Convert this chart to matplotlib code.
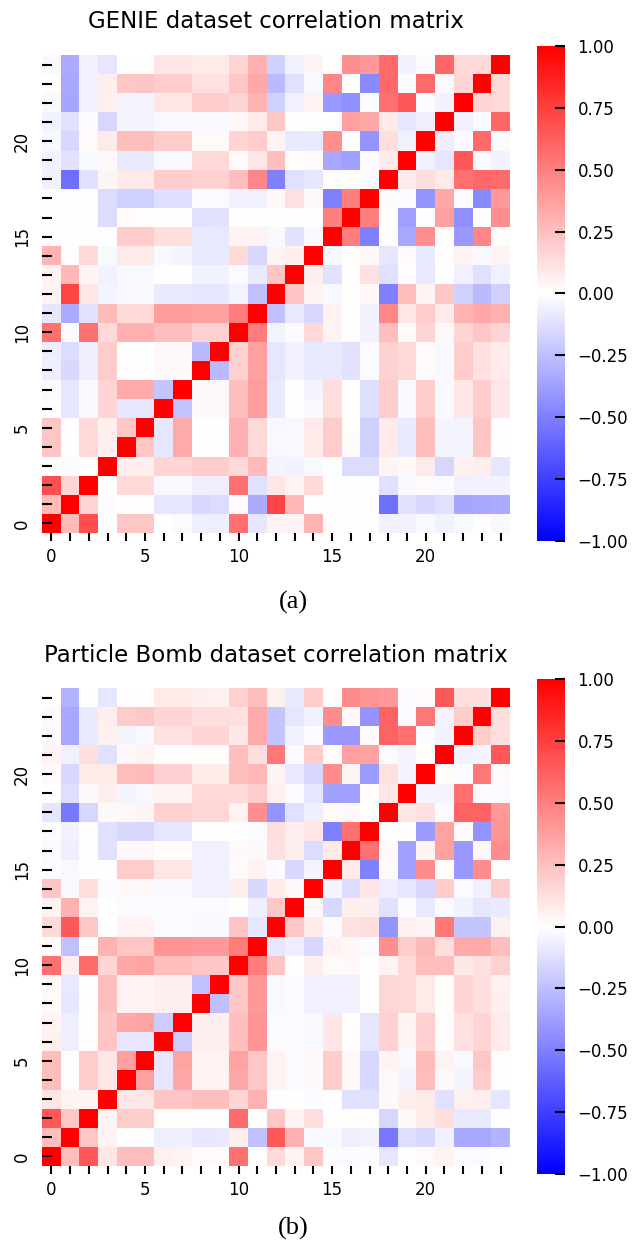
import numpy as np
import matplotlib
matplotlib.use("Agg")
import matplotlib.pyplot as plt

# lower triangle rows (row i holds columns 0..i-1), diagonal is 1
genie_rows = [
    [0.27],
    [0.69, 0.17],
    [0.00, -0.01, 0.00],
    [0.22, 0.00, 0.15, 0.07],
    [0.22, 0.00, 0.15, 0.07, 0.22],
    [0.00, -0.10, -0.03, 0.17, -0.10, -0.10],
    [-0.02, -0.10, -0.03, 0.17, 0.33, 0.33, -0.23],
    [-0.07, -0.15, -0.07, 0.20, 0.00, 0.00, 0.03, 0.03],
    [-0.07, -0.14, -0.07, 0.20, 0.00, 0.00, 0.03, 0.03, -0.27],
    [0.56, -0.02, 0.56, 0.15, 0.31, 0.31, 0.25, 0.25, 0.18, 0.18],
    [-0.10, -0.33, -0.12, 0.27, 0.15, 0.15, 0.39, 0.39, 0.37, 0.37, 0.51],
    [0.05, 0.73, 0.10, -0.04, -0.03, -0.03, -0.08, -0.08, -0.10, -0.10, -0.04, -0.25],
    [0.05, 0.28, 0.04, -0.05, -0.03, -0.03, 0.00, 0.00, -0.05, -0.05, -0.02, -0.08, 0.23],
    [0.29, 0.01, 0.15, -0.03, 0.08, 0.08, -0.03, -0.04, -0.08, -0.08, 0.15, -0.15, 0.04, 0.07],
    [0.01, 0.00, 0.00, 0.00, 0.20, 0.20, 0.13, 0.13, -0.08, -0.09, 0.05, 0.05, -0.03, -0.11, -0.03],
    [0.00, 0.00, 0.00, -0.14, 0.02, 0.01, 0.00, 0.00, -0.11, -0.11, 0.00, 0.00, 0.00, 0.00, 0.00, 0.50],
    [0.00, 0.00, 0.00, -0.14, -0.18, -0.18, -0.13, -0.13, -0.02, -0.02, -0.05, -0.05, 0.03, 0.12, 0.03, -0.50, 0.50],
    [-0.05, -0.57, -0.12, 0.04, 0.08, 0.08, 0.20, 0.20, 0.18, 0.18, 0.25, 0.47, -0.50, -0.12, -0.10, 0.01, 0.01, -0.01],
    [-0.05, -0.11, -0.03, 0.03, -0.08, -0.08, -0.03, -0.03, 0.15, 0.15, 0.02, 0.10, 0.25, 0.01, 0.02, -0.34, -0.37, -0.02, 0.08],
    [-0.03, -0.15, 0.02, 0.08, 0.25, 0.25, 0.20, 0.20, 0.02, 0.02, 0.17, 0.20, 0.04, -0.09, -0.09, 0.44, 0.00, -0.42, 0.13, -0.06],
    [-0.05, -0.12, -0.02, -0.16, -0.04, -0.04, -0.03, -0.03, -0.03, -0.03, 0.03, 0.08, 0.22, 0.00, 0.01, 0.01, 0.37, 0.34, 0.08, -0.10, -0.07],
    [-0.03, -0.35, -0.06, 0.06, -0.04, -0.04, 0.10, 0.10, 0.20, 0.20, 0.17, 0.30, -0.18, -0.06, 0.05, -0.40, -0.43, -0.02, 0.56, 0.65, -0.02, -0.05],
    [0.00, -0.34, -0.05, 0.07, 0.22, 0.23, 0.20, 0.20, 0.12, 0.12, 0.22, 0.34, -0.27, -0.12, -0.03, 0.47, 0.00, -0.46, 0.59, -0.02, 0.58, -0.02, 0.17],
    [-0.03, -0.33, -0.05, -0.10, 0.00, 0.00, 0.10, 0.10, 0.08, 0.08, 0.17, 0.31, -0.18, -0.06, 0.04, 0.01, 0.44, 0.40, 0.58, -0.05, -0.02, 0.60, 0.15, 0.15],
]

bomb_rows = [
    [0.25],
    [0.65, 0.22],
    [0.10, 0.05, 0.04],
    [0.25, 0.01, 0.20, 0.10],
    [0.25, 0.01, 0.20, 0.10, 0.37],
    [0.06, -0.07, 0.01, 0.23, -0.10, -0.10],
    [0.05, -0.07, 0.01, 0.23, 0.34, 0.36, -0.20],
    [0.02, -0.10, 0.00, 0.25, 0.05, 0.05, 0.07, 0.07],
    [0.02, -0.09, 0.00, 0.25, 0.05, 0.05, 0.07, 0.07, -0.25],
    [0.56, 0.07, 0.58, 0.17, 0.34, 0.36, 0.25, 0.25, 0.22, 0.22],
    [0.01, -0.25, 0.00, 0.30, 0.22, 0.22, 0.42, 0.42, 0.40, 0.40, 0.51],
    [0.15, 0.65, 0.22, 0.00, 0.05, 0.05, -0.02, -0.02, -0.03, -0.03, 0.23, -0.10],
    [0.05, 0.31, 0.05, 0.00, -0.02, -0.02, -0.02, -0.02, -0.02, -0.02, 0.00, -0.07, 0.22],
    [0.22, -0.03, 0.13, -0.02, 0.03, 0.03, -0.03, -0.03, -0.06, -0.06, 0.07, -0.15, 0.08, 0.03],
    [-0.01, -0.03, 0.00, 0.00, 0.20, 0.20, 0.10, 0.10, -0.06, -0.06, 0.02, 0.05, -0.02, -0.15, -0.04],
    [-0.02, -0.07, 0.01, -0.12, 0.03, 0.03, 0.01, 0.01, -0.06, -0.06, 0.03, 0.03, 0.12, 0.07, -0.14, 0.08],
    [-0.01, -0.05, 0.01, -0.12, -0.15, -0.15, -0.10, -0.10, 0.01, 0.01, 0.00, -0.02, 0.13, 0.07, 0.10, -0.50, 0.56],
    [-0.10, -0.53, -0.16, 0.03, 0.03, 0.04, 0.18, 0.18, 0.16, 0.16, 0.05, 0.44, -0.42, -0.12, -0.07, 0.02, 0.03, 0.00],
    [0.00, -0.13, 0.03, 0.07, -0.04, -0.03, 0.04, 0.04, 0.15, 0.15, 0.15, 0.20, 0.06, -0.02, -0.10, -0.37, -0.37, 0.01, 0.10],
    [0.02, -0.15, 0.08, 0.08, 0.25, 0.27, 0.18, 0.18, 0.08, 0.08, 0.25, 0.28, 0.04, -0.09, -0.15, 0.45, 0.04, -0.39, 0.12, -0.04],
    [0.05, -0.06, 0.13, -0.12, 0.03, 0.05, 0.01, 0.01, 0.01, 0.01, 0.25, 0.13, 0.53, -0.02, 0.20, 0.01, 0.37, 0.36, -0.02, -0.04, 0.01],
    [-0.02, -0.34, -0.08, 0.06, -0.04, -0.03, 0.12, 0.12, 0.17, 0.17, 0.09, 0.33, -0.23, -0.05, -0.02, -0.40, -0.40, 0.02, 0.61, 0.56, -0.02, -0.05],
    [-0.02, -0.34, -0.08, 0.07, 0.20, 0.22, 0.17, 0.17, 0.13, 0.13, 0.12, 0.33, -0.23, -0.10, -0.06, 0.45, 0.03, -0.42, 0.61, -0.02, 0.53, -0.04, 0.20],
    [0.00, -0.30, 0.00, -0.10, 0.01, 0.01, 0.08, 0.08, 0.07, 0.06, 0.18, 0.25, 0.06, -0.08, 0.20, 0.01, 0.45, 0.42, 0.40, -0.02, 0.02, 0.65, 0.13, 0.13],
]

titles = ["GENIE dataset correlation matrix", "Particle Bomb dataset correlation matrix"]
captions = ["(a)", "(b)"]
cbar_ticks = [-1.0, -0.75, -0.5, -0.25, 0.0, 0.25, 0.5, 0.75, 1.0]


def full_matrix(rows):
    n = len(rows) + 1
    m = np.eye(n)
    for i, r in enumerate(rows, start=1):
        for j, v in enumerate(r):
            m[i, j] = v
            m[j, i] = v
    return m


W, H = 638, 1245
fig = plt.figure(figsize=(W / 100, H / 100), dpi=100)


def box(x0, x1, y0, y1):
    # pixel box (top-left origin) -> figure fraction
    return [x0 / W, 1 - y1 / H, (x1 - x0) / W, (y1 - y0) / H]


panel_offset = [0, 633]
caption_y = [602, 1228]
for k, rows in enumerate([genie_rows, bomb_rows]):
    dy = panel_offset[k]
    corr = full_matrix(rows)
    n = corr.shape[0]

    ax = fig.add_axes(box(42, 510, 55 + dy, 533 + dy))
    mesh = ax.pcolormesh(np.arange(n + 1), np.arange(n + 1), corr,
                         cmap="bwr", vmin=-1, vmax=1)
    ax.set_xlim(0, n)
    ax.set_ylim(0, n)
    for s in ax.spines.values():
        s.set_visible(False)

    pos = np.arange(n) + 0.5
    labels = [str(i) if i % 5 == 0 else "" for i in range(n)]
    ax.set_xticks(pos)
    ax.set_xticklabels(labels, fontsize=12)
    ax.set_yticks(pos)
    ax.set_yticklabels(labels, fontsize=12, rotation=90, va="center")
    ax.tick_params(axis="x", direction="out", length=6, width=1.5, pad=5)
    ax.tick_params(axis="y", direction="in", length=7, width=1.5, pad=8)

    cax = fig.add_axes(box(537, 565, 46 + dy, 541 + dy))
    cb = fig.colorbar(mesh, cax=cax, ticks=cbar_ticks, format="%.2f")
    cb.outline.set_visible(False)
    cax.tick_params(direction="in", length=7, width=1.5, labelsize=12, pad=9)
    cax.set_yticklabels(["\u22121.00", "\u22120.75", "\u22120.50", "\u22120.25",
                         "0.00", "0.25", "0.50", "0.75", "1.00"])

    fig.text(276 / W, 1 - (22 + dy) / H, titles[k], fontsize=16.5,
             ha="center", va="center")
    fig.text(293 / W, 1 - caption_y[k] / H, captions[k], fontsize=19,
             family="Liberation Serif", ha="center", va="center")

fig.savefig("out.png", dpi=100)
